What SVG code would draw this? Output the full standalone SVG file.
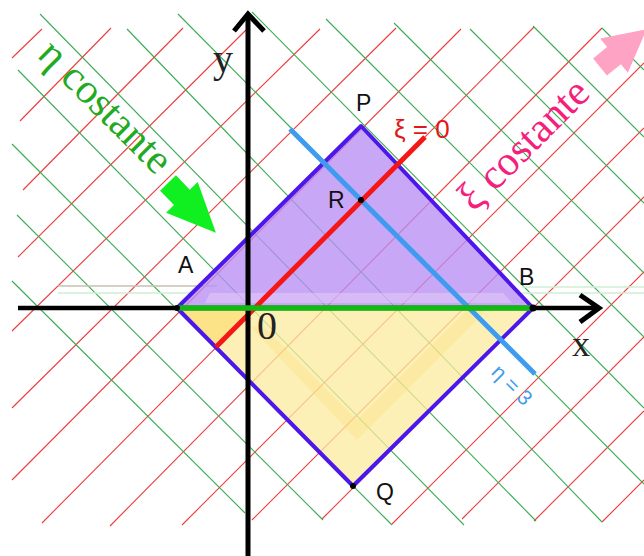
<svg xmlns="http://www.w3.org/2000/svg" width="644" height="556" viewBox="0 0 644 556">
<style>
.gr{stroke:#ec3c3c;stroke-width:1.1;fill:none}
.gg{stroke:#3aab55;stroke-width:1.1;fill:none}
.lbl{font-family:"Liberation Sans",Arial,sans-serif;font-size:23px;fill:#111}
.ax{font-family:"Liberation Serif","Times New Roman",serif;fill:#222}
.big{font-family:"Liberation Serif","Times New Roman",serif;font-size:42px}
.dot{fill:#000}
</style>
<rect width="644" height="556" fill="#ffffff"/>
<g id="grid-xi">
<line class="gr" x1="12" y1="58" x2="42" y2="29"/>
<line class="gr" x1="20" y1="121" x2="111" y2="28"/>
<line class="gr" x1="23" y1="190" x2="183" y2="28"/>
<line class="gr" x1="18" y1="257" x2="248" y2="28"/>
<line class="gr" x1="12" y1="331" x2="320" y2="29"/>
<line class="gr" x1="12" y1="408" x2="396" y2="28"/>
<line class="gr" x1="12" y1="480" x2="461" y2="29"/>
<line class="gr" x1="42" y1="523" x2="534" y2="27"/>
<line class="gr" x1="110" y1="526" x2="602" y2="28"/>
<line class="gr" x1="182" y1="525" x2="644" y2="63"/>
<line class="gr" x1="252" y1="520" x2="644" y2="128"/>
<line class="gr" x1="322" y1="519" x2="644" y2="197"/>
<line class="gr" x1="392" y1="524" x2="644" y2="272"/>
<line class="gr" x1="462" y1="519" x2="644" y2="337"/>
<line class="gr" x1="534" y1="521" x2="644" y2="411"/>
<line class="gr" x1="602" y1="522" x2="644" y2="480"/>
</g>
<g id="grid-eta">
<line class="gg" x1="12" y1="281" x2="245" y2="513"/>
<line class="gg" x1="17" y1="215" x2="323" y2="520"/>
<line class="gg" x1="12" y1="144" x2="392" y2="525"/>
<line class="gg" x1="18" y1="70" x2="464" y2="525"/>
<line class="gg" x1="40" y1="14" x2="536" y2="521"/>
<line class="gg" x1="127" y1="29" x2="602" y2="522"/>
<line class="gg" x1="178" y1="14" x2="644" y2="484"/>
<line class="gg" x1="252" y1="12" x2="644" y2="408"/>
<line class="gg" x1="326" y1="19" x2="644" y2="337"/>
<line class="gg" x1="394" y1="23" x2="644" y2="273"/>
<line class="gg" x1="470" y1="29" x2="644" y2="203"/>
<line class="gg" x1="533" y1="26" x2="644" y2="137"/>
<line class="gg" x1="602" y1="28" x2="644" y2="70"/>
</g>
<g id="faint">
<line x1="58" y1="286" x2="217" y2="286" stroke="#c9c0b0" stroke-width="1.5"/>
<line x1="58" y1="293" x2="190" y2="293" stroke="#cfeed4" stroke-width="1.5"/>
<line x1="522" y1="287" x2="644" y2="287" stroke="#cfeed4" stroke-width="1.5"/>
<line x1="522" y1="293" x2="644" y2="293" stroke="#cfeed4" stroke-width="1.5"/>
</g>
<g id="region">
<polygon points="177,308 361,126 533,308" fill="#b88ef4" fill-opacity="0.78"/>
<polygon points="210,293 503,293 512,303 205,303" fill="#e8d4f8" fill-opacity="0.45"/>
<polygon points="177,308 533,308 353,486" fill="#fceb9e" fill-opacity="0.75"/>
<polygon points="177,308 249,308 216,347" fill="#fdd860" fill-opacity="0.55"/>
<polygon points="250,326 357,440 486,311 466,311 357,420 266,329" fill="#fbd86a" fill-opacity="0.25"/>
<polygon points="177,308 361,126 533,308 353,486" fill="none" stroke="#4b17ea" stroke-width="4" stroke-linejoin="round"/>
</g>
<g id="connectors">
<line id="eta3" x1="290" y1="129" x2="535" y2="374" stroke="#3d9cf0" stroke-width="5"/>
<line id="xi0" x1="216" y1="347" x2="425" y2="137" stroke="#f51616" stroke-width="5"/>
<line id="xaxis" x1="18" y1="308" x2="598" y2="308" stroke="#000" stroke-width="4.5"/>
<polyline points="580,295 599,308 580,322" fill="none" stroke="#000" stroke-width="5" stroke-linejoin="miter"/>
<line id="yaxis" x1="248" y1="556" x2="248" y2="14" stroke="#000" stroke-width="5"/>
<polyline points="234,31 248,14 264,31" fill="none" stroke="#000" stroke-width="5"/>
<line id="AB" x1="177" y1="308" x2="533" y2="308" stroke="#14b814" stroke-width="5.5"/>
</g>
<g id="points">
<circle class="dot" cx="177" cy="308" r="3"/>
<circle class="dot" cx="533" cy="308" r="3.5"/>
<circle class="dot" cx="353" cy="486" r="3"/>
<circle class="dot" cx="361" cy="200" r="3"/>
</g>
<g id="labels">
<text class="lbl" x="178" y="273">A</text>
<text class="lbl" x="519" y="285">B</text>
<text class="lbl" x="356" y="111">P</text>
<text class="lbl" x="376" y="500">Q</text>
<text class="lbl" x="328" y="208">R</text>
<text class="ax" x="213" y="72" font-size="40">y</text>
<text class="ax" x="572" y="356" font-size="36">x</text>
<text class="ax" x="257" y="339" font-size="40">0</text>
<text x="394" y="138" font-family="Liberation Sans,Arial,sans-serif" font-size="26" fill="#e01818">ξ = 0</text>
<text transform="translate(507,390) rotate(45)" text-anchor="middle" font-family="Liberation Sans,Arial,sans-serif" font-size="21" fill="#3d9cf0">η = 3</text>
<text class="big" transform="translate(36,56) rotate(45)" fill="#22aa22">η costante</text>
<text class="big" transform="translate(474,213) rotate(-45)" fill="#f5207c">ξ costante</text>
</g>
<g id="arrows">
<polygon transform="translate(168,183) rotate(46)" points="0,-11 20,-11 20,-22 69,0 20,22 20,11 0,11" fill="#10ef20"/>
<polygon transform="translate(600,67) rotate(-39)" points="0,-11 18,-11 18,-22 60,0 18,22 18,11 0,11" fill="#ffa3c4"/>
</g>
</svg>
